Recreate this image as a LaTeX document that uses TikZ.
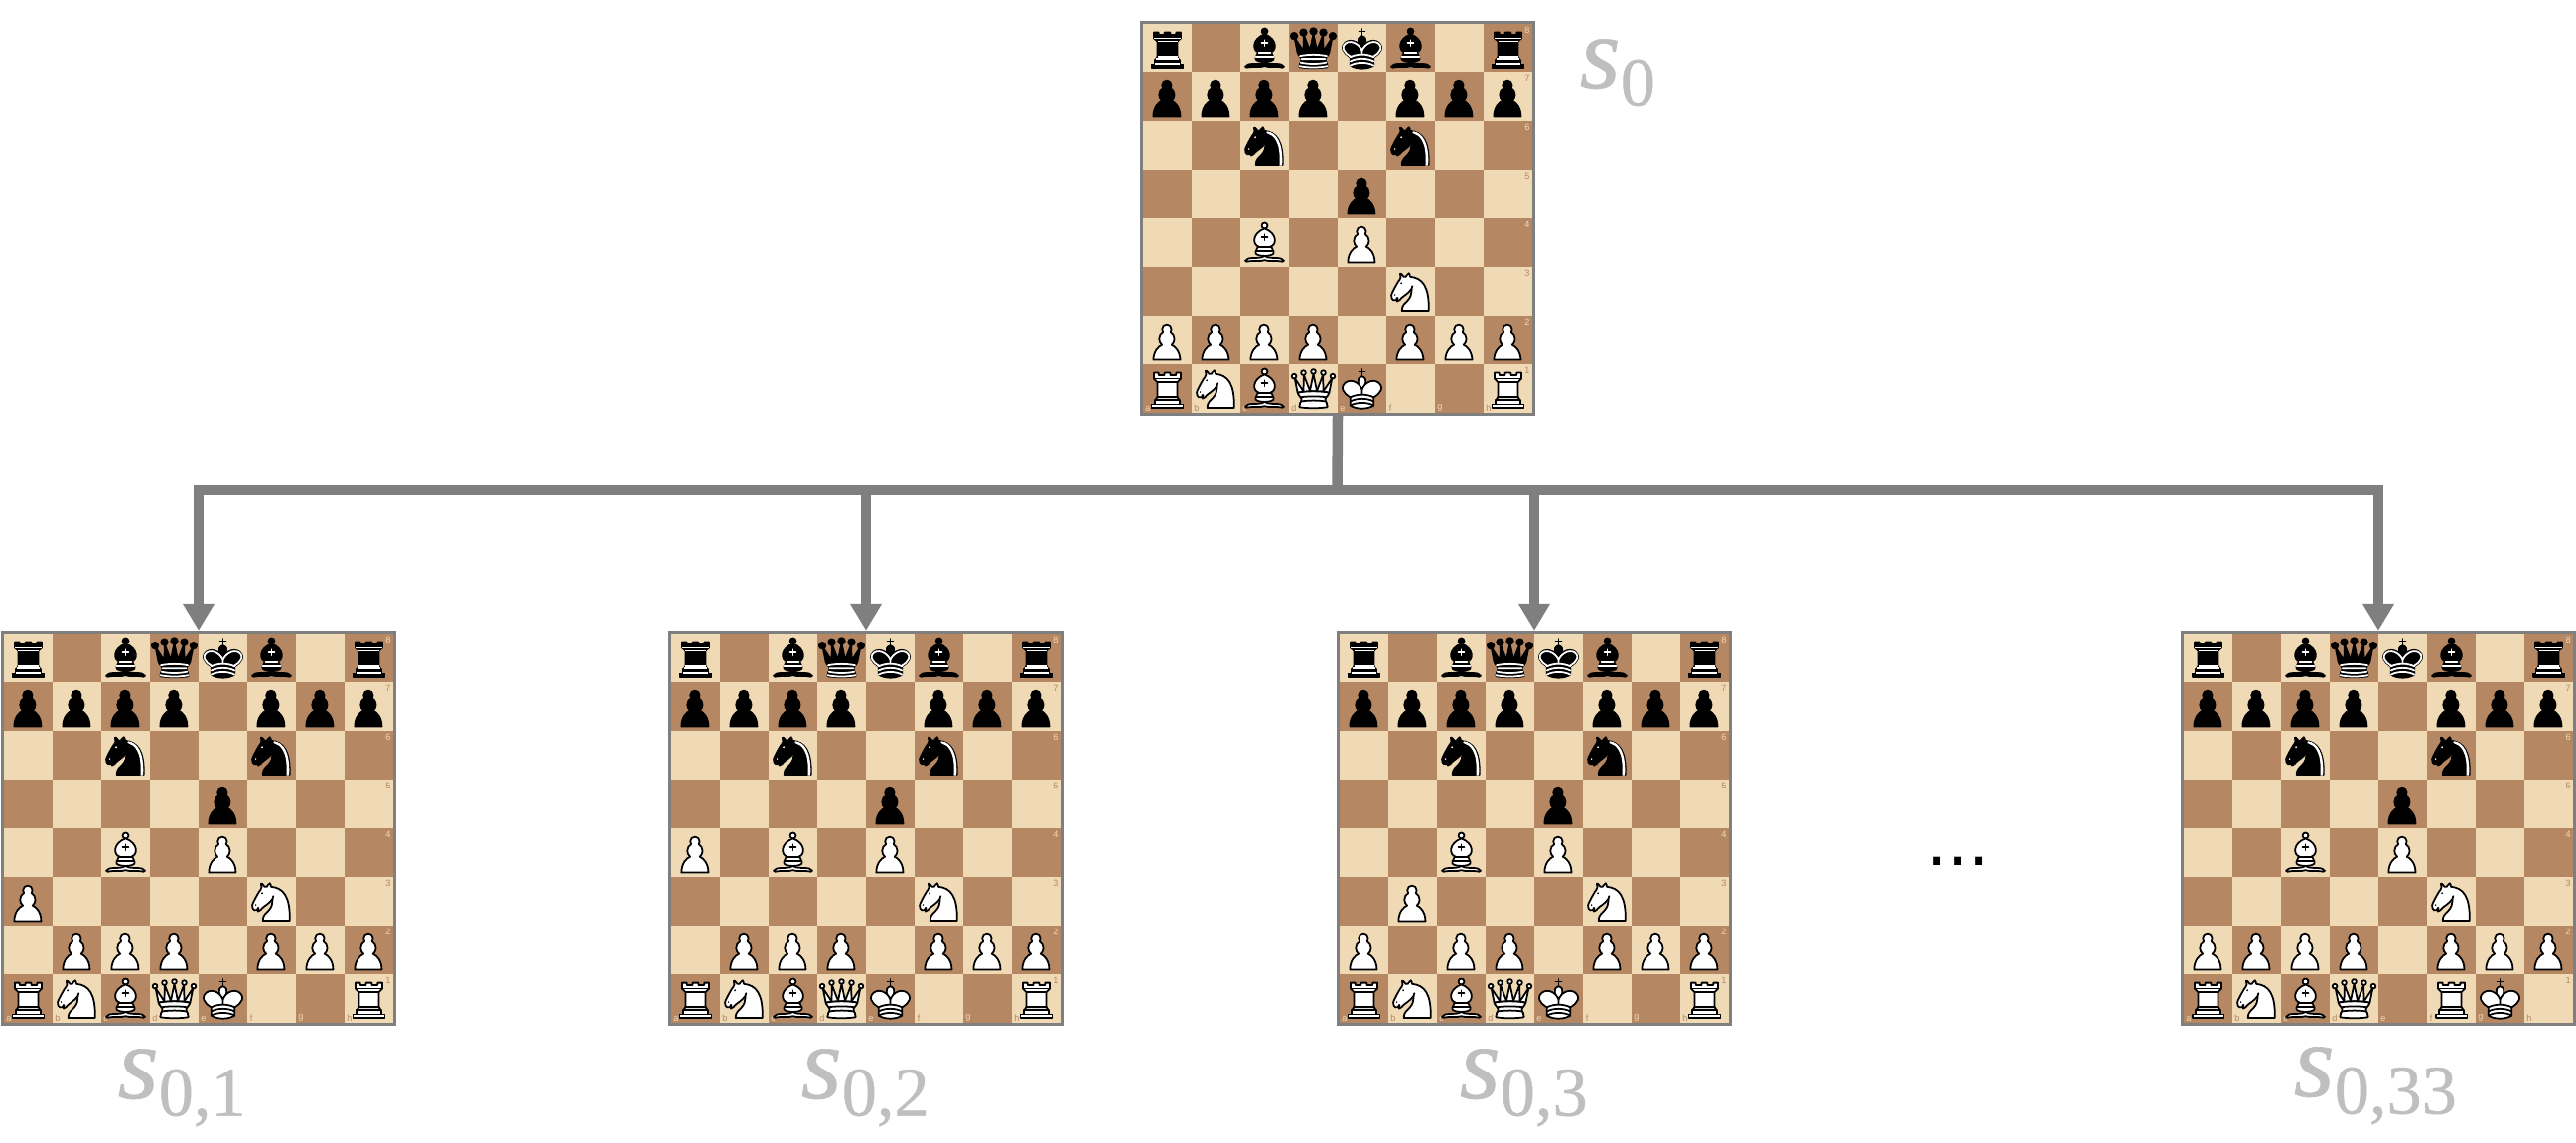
\documentclass[tikz,border=0pt]{standalone}
\usepackage{fontspec}
\usetikzlibrary{arrows.meta,svg.path}
\newfontfamily\dotsfont{DejaVu Sans}
\newfontfamily\labelfont[FakeBold=0.6]{Liberation Serif}
\setsansfont{Liberation Sans}
\definecolor{lightsq}{HTML}{F0D9B5}
\definecolor{darksq}{HTML}{B58863}
\definecolor{linkgray}{HTML}{7F7F7F}
\definecolor{labelgray}{HTML}{BFBFBF}
\newcommand{\kingcross}{\draw[draw=black,pcline] svg {M 22.5,11.63 L 22.5,6 M 20,8 L 25,8};}
\newcommand{\kingbody}{
  \path[pcbody] svg {M 22.5,25 C 22.5,25 27,17.5 25.5,14.5 C 25.5,14.5 24.5,12 22.5,12 C 20.5,12 19.5,14.5 19.5,14.5 C 18,17.5 22.5,25 22.5,25 z};
  \path[pcbody] svg {M 12.5,37 C 18,40.5 27,40.5 32.5,37 L 32.5,30 C 32.5,30 41.5,25.5 38.5,19.5 C 34.5,13 25,16 22.5,23.5 L 22.5,27 L 22.5,23.5 C 20,16 10.5,13 6.5,19.5 C 3.5,25.5 12.5,30 12.5,30 L 12.5,37 z};
}
\newcommand{\kinglines}{\draw[pcmark] svg {M 12.5,30 C 18,27 27,27 32.5,30 M 12.5,33.5 C 18,30.5 27,30.5 32.5,33.5 M 12.5,37 C 18,34 27,34 32.5,37};}
\newcommand{\queenbody}{
  \path[pcbody] svg {M 9,26 C 17.5,24.5 30,24.5 36,26 L 38.5,13.5 L 31,25 L 30.7,10.9 L 25.5,24.5 L 22.5,10 L 19.5,24.5 L 14.3,10.9 L 14,25 L 6.5,13.5 L 9,26 z};
  \path[pcbody] svg {M 9,26 C 9,28 10.5,28 11.5,30 C 12.5,31.5 12.5,31 12,33.5 C 10.5,34.5 11,36 11,36 C 9.5,37.5 11,38.5 11,38.5 C 17.5,39.5 27.5,39.5 34,38.5 C 34,38.5 35.5,37.5 34,36 C 34,36 34.5,34.5 33,33.5 C 32.5,31 32.5,31.5 33.5,30 C 34.5,28 36,28 36,26 C 27.5,24.5 17.5,24.5 9,26 z};
}
\newcommand{\knightbody}{
  \path[pcbody] svg {M 22,10 C 32.5,11 38.5,18 38,39 L 15,39 C 15,30 25,32.5 23,18};
  \path[pcbody] svg {M 24,18 C 24.38,20.91 18.45,25.37 16,27 C 13,29 13.18,31.34 11,31 C 9.958,30.06 12.41,27.96 11,28 C 10,28 11.19,29.23 10,30 C 9,30 5.997,31 6,26 C 6,24 12,14 12,14 C 12,14 13.89,12.1 14,10.5 C 13.27,9.506 13.5,8.5 13.5,7.5 C 14.5,6.5 16.5,10 16.5,10 L 18.5,10 C 18.5,10 19.28,8.008 21,7 C 22,7 22,10 22,10};
}
\newcommand{\statetext}[1]{{\itshape s}\raisebox{-0.175cm}{\fontsize{20}{22}\selectfont #1}}
\tikzset{
  boardframe/.style={draw=linkgray,line width=0.03cm,minimum size=3.95cm,inner sep=0pt},
  square/.style={minimum size=0.495cm,inner sep=0pt,outer sep=0pt},
  coordlabel/.style={inner sep=0pt,font=\sffamily\fontsize{2.6}{3}\selectfont},
  statelabel/.style={text=labelgray,inner sep=0pt,anchor=base west,font=\labelfont\fontsize{30}{36}\selectfont},
  link/.style={draw=linkgray,line width=0.105cm},
  pcline/.style={line width=0.5pt,line join=round,line cap=round},
  piece/.style={xscale=0.335,yscale=-0.335,shift={(-22.5pt,-22.5pt)}},
  whitepc/.style={pcbody/.style={draw=black,fill=white,pcline},pcmark/.style={draw=black,pcline},pcdot/.style={fill=black}},
  blackpc/.style={pcbody/.style={draw=black,fill=black,pcline},pcmark/.style={draw=white,pcline},pcdot/.style={fill=white}},
  pawn/.pic={
    \path[pcbody] svg {M 22,9 C 19.79,9 18,10.79 18,13 C 18,13.89 18.29,14.71 18.78,15.38 C 16.83,16.5 15.5,18.59 15.5,21 C 15.5,23.03 16.44,24.84 17.91,26.03 C 14.91,27.09 10.5,31.58 10.5,39.5 L 33.5,39.5 C 33.5,31.58 29.09,27.09 26.09,26.03 C 27.56,24.84 28.5,23.03 28.5,21 C 28.5,18.59 27.17,16.5 25.22,15.38 C 25.71,14.71 26,13.89 26,13 C 26,10.79 24.21,9 22,9 z};
  },
  bishop/.pic={
    \path[pcbody] svg {M 9,36 C 12.39,35.03 19.11,36.43 22.5,34 C 25.89,36.43 32.61,35.03 36,36 C 36,36 37.65,36.54 39,38 C 38.32,38.97 37.35,38.99 36,38.5 C 32.61,37.53 25.89,38.96 22.5,37.5 C 19.11,38.96 12.39,37.53 9,38.5 C 7.65,38.99 6.68,38.97 6,38 C 7.35,36.54 9,36 9,36 z};
    \path[pcbody] svg {M 15,32 C 17.5,34.5 27.5,34.5 30,32 C 30.5,30.5 30,30 30,30 C 30,27.5 27.5,26 27.5,26 C 33,24.5 33.5,14.5 22.5,10.5 C 11.5,14.5 12,24.5 17.5,26 C 17.5,26 15,27.5 15,30 C 15,30 14.5,30.5 15,32 z};
    \path[pcbody] (22.5pt,8pt) circle (2.5pt);
    \draw[pcmark] svg {M 17.5,26 L 27.5,26 M 15,30 L 30,30 M 22.5,15.5 L 22.5,20.5 M 20,18 L 25,18};
  },
  wknight/.pic={
    \knightbody
    \fill[pcdot] (9pt,25.5pt) circle (0.7pt) (14.5pt,15.5pt) circle (0.9pt);
  },
  bknight/.pic={
    \knightbody
    \fill[pcdot] (9pt,25.5pt) circle (0.7pt) (14.5pt,15.5pt) circle (0.9pt);
    \fill[pcdot] svg {M 24.55,10.4 L 24.1,11.85 L 24.6,12 C 27.75,13 30.25,14.49 32.5,18.75 C 34.75,23.01 35.75,29.06 35.25,39 L 35.2,39.5 L 37.45,39.5 L 37.5,39 C 38,28.94 36.62,22.15 34.25,17.66 C 31.88,13.17 28.46,11.02 25.06,10.5 L 24.55,10.4 z};
  },
  wrook/.pic={
    \path[pcbody] svg {M 9,39 L 36,39 L 36,36 L 9,36 z M 12,36 L 12,32 L 33,32 L 33,36 z};
    \path[pcbody] svg {M 11,14 L 11,9 L 15,9 L 15,11 L 20,11 L 20,9 L 25,9 L 25,11 L 30,11 L 30,9 L 34,9 L 34,14 L 31,17 L 31,29.5 L 32.5,32 L 12.5,32 L 14,29.5 L 14,17 L 11,14 z};
    \draw[pcmark] svg {M 14,17 L 31,17 M 14,29.5 L 31,29.5 M 11,14 L 34,14};
  },
  brook/.pic={
    \path[pcbody] svg {M 9,39 L 36,39 L 36,36 L 9,36 z M 12,36 L 12,32 L 33,32 L 33,36 z};
    \path[pcbody] svg {M 11,14 L 11,9 L 15,9 L 15,11 L 20,11 L 20,9 L 25,9 L 25,11 L 30,11 L 30,9 L 34,9 L 34,14 L 31,16.5 L 31,29.5 L 32.5,32 L 12.5,32 L 14,29.5 L 14,16.5 L 11,14 z};
    \draw[pcmark,line cap=butt] svg {M 12,35.5 L 33,35.5 M 13,31.5 L 32,31.5 M 14,29.5 L 31,29.5 M 14,16.5 L 31,16.5 M 11,14 L 34,14};
  },
  wqueen/.pic={
    \path[pcbody] (6pt,12pt) circle (2pt) (14pt,9pt) circle (2pt) (22.5pt,8pt) circle (2pt) (31pt,9pt) circle (2pt) (39pt,12pt) circle (2pt);
    \queenbody
    \draw[pcmark] svg {M 11.5,30 C 15,29 30,29 33.5,30 M 12,33.5 C 18,32.5 27,32.5 33,33.5};
  },
  bqueen/.pic={
    \path[pcbody] (6pt,12pt) circle (2.75pt) (14pt,9pt) circle (2.75pt) (22.5pt,8pt) circle (2.75pt) (31pt,9pt) circle (2.75pt) (39pt,12pt) circle (2.75pt);
    \queenbody
    \draw[pcmark] svg {M 11,29 C 18,27.5 27,27.5 34,29 M 12.5,31.5 L 32.5,31.5 M 11.5,34.5 C 18,36 27,36 33.5,34.5 M 10.5,37.5 C 18,39 27,39 34.5,37.5};
  },
  wking/.pic={\kingcross \kingbody \kinglines},
  bking/.pic={
    \kingcross \kingbody \kinglines
    \draw[pcmark] svg {M 32,29.5 C 32,29.5 40.5,25.5 38.03,19.85 C 34.15,14 25,18 22.5,24.5 L 22.5,26.6 L 22.5,24.5 C 20,18 10.85,14 6.97,19.85 C 4.5,25.5 13,29.5 13,29.5};
  },
}
% #1 name, #2 left, #3 top, #4 extra white pieces
\newcommand{\chessboard}[4]{
  \begin{scope}[shift={(#2,#3)}]
    \foreach \f in {1,...,8}
      \foreach \r in {1,...,8} {
        \pgfmathparse{int(mod(\f+\r,2))}
        \ifnum\pgfmathresult=0 \def\sqcol{darksq}\def\txtcol{lightsq}\else \def\sqcol{lightsq}\def\txtcol{darksq}\fi
        \node[square,fill=\sqcol] (#1-\f\r) at (\f*49-24.5+2,{(8-\r)*49+24.5+2}) {};
        \ifnum\r=1 \node[coordlabel,text=\txtcol,anchor=south west] (#1-file\f) at ([xshift=0.02cm,yshift=0.01cm]#1-\f\r.south west) {\ifcase\f\or a\or b\or c\or d\or e\or f\or g\or h\fi};\fi
        \ifnum\f=8 \node[coordlabel,text=\txtcol,anchor=north east] (#1-rank\r) at ([xshift=-0.02cm,yshift=-0.03cm]#1-\f\r.north east) {\r};\fi
      }
    % black pieces
    \foreach \f/\r/\pc in {1/8/brook,3/8/bishop,4/8/bqueen,5/8/bking,6/8/bishop,8/8/brook,1/7/pawn,2/7/pawn,3/7/pawn,4/7/pawn,6/7/pawn,7/7/pawn,8/7/pawn,3/6/bknight,6/6/bknight,5/5/pawn}
      \pic[blackpc,piece] (#1-p\f\r) at (#1-\f\r) {\pc};
    % white pieces
    \foreach \f/\r/\pc in {3/4/bishop,5/4/pawn,6/3/wknight,3/2/pawn,4/2/pawn,6/2/pawn,7/2/pawn,8/2/pawn,1/1/wrook,2/1/wknight,3/1/bishop,4/1/wqueen,#4}
      \pic[whitepc,piece] (#1-p\f\r) at (#1-\f\r) {\pc};
  \end{scope}
  \node[boardframe] (#1) at (#2+198,#3+198) {};
}
\begin{document}
\begin{tikzpicture}[x=0.01cm,y=-0.01cm]
  \useasboundingbox (0,0) rectangle (2594,1150);
  \chessboard{s0}{1149}{22}{2/2/pawn,1/2/pawn,5/1/wking,8/1/wrook}
  \chessboard{s01}{2}{636}{2/2/pawn,1/3/pawn,5/1/wking,8/1/wrook}
  \chessboard{s02}{674}{636}{2/2/pawn,1/4/pawn,5/1/wking,8/1/wrook}
  \chessboard{s03}{1347}{636}{1/2/pawn,2/3/pawn,5/1/wking,8/1/wrook}
  \chessboard{s033}{2197}{636}{1/2/pawn,2/2/pawn,6/1/wrook,7/1/wking}
  \coordinate (hub) at (1346.5,493);
  \draw[link] (s0.south) -- (hub);
  \foreach \c in {s01,s02,s03,s033}
    \draw[link,-{Triangle[length=0.27cm,width=0.3cm]}] (hub) -| (\c.north);
  \node[statelabel] (label0) at (1590,89) {\statetext{0}};
  \node[statelabel] (label01) at (118,1106) {\statetext{0,1}};
  \node[statelabel] (label02) at (806,1106) {\statetext{0,2}};
  \node[statelabel] (label03) at (1469,1106) {\statetext{0,3}};
  \node[statelabel] (label033) at (2309,1104) {\statetext{0,33}};
  \node[inner sep=0pt,anchor=base,font=\dotsfont\fontsize{19}{22}\selectfont] (dots) at (1972,871) {...};
\end{tikzpicture}
\end{document}
